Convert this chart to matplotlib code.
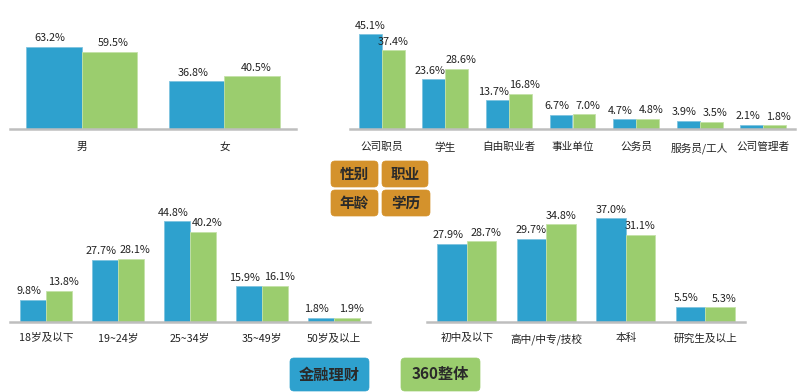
import matplotlib
matplotlib.use("Agg")
import matplotlib.pyplot as plt
from matplotlib.patches import FancyBboxPatch
import numpy as np

plt.rcParams['font.family'] = ['Noto Sans CJK SC', 'DejaVu Sans']

BLUE = '#2EA1CE'
GREEN = '#9BCD6E'
ORANGE = '#D4922C'
TEXT = '#222222'
AXIS = '#BEBEBE'

series_names = ['金融理财', '360整体']

gender_cats = ['男', '女']
gender_fin = [63.2, 36.8]
gender_all = [59.5, 40.5]

job_cats = ['公司职员', '学生', '自由职业者', '事业单位', '公务员', '服务员/工人', '公司管理者']
job_fin = [45.1, 23.6, 13.7, 6.7, 4.7, 3.9, 2.1]
job_all = [37.4, 28.6, 16.8, 7.0, 4.8, 3.5, 1.8]

age_cats = ['18岁及以下', '19~24岁', '25~34岁', '35~49岁', '50岁及以上']
age_fin = [9.8, 27.7, 44.8, 15.9, 1.8]
age_all = [13.8, 28.1, 40.2, 16.1, 1.9]

edu_cats = ['初中及以下', '高中/中专/技校', '本科', '研究生及以上']
edu_fin = [27.9, 29.7, 37.0, 5.5]
edu_all = [28.7, 34.8, 31.1, 5.3]

tag_labels = ['性别', '职业', '年龄', '学历']

W, H = 800, 392
fig = plt.figure(figsize=(W / 100, H / 100), dpi=100)
fig.patch.set_facecolor('white')


def panel(cats, a, b, left, right, base, top, scale, width, pad):
    ax = fig.add_axes([left / W, 1 - base / H, (right - left) / W, (base - top) / H])
    x = np.arange(len(cats))
    ax.bar(x - width / 2, a, width, color=BLUE, edgecolor='#7FC4E0', linewidth=0.6)
    ax.bar(x + width / 2, b, width, color=GREEN, edgecolor='#C4E2A8', linewidth=0.6)
    for i in range(len(cats)):
        close = abs(a[i] - b[i]) * scale < 12
        dx = 4 if close else 0
        ax.annotate(f'{a[i]:.1f}%', (x[i] - width / 2, a[i]), xytext=(-dx * 0.75, 2.5),
                    textcoords='offset points', ha='center', va='bottom',
                    fontsize=7.8, color=TEXT)
        ax.annotate(f'{b[i]:.1f}%', (x[i] + width / 2, b[i]), xytext=(dx * 0.75, 2.5),
                    textcoords='offset points', ha='center', va='bottom',
                    fontsize=7.8, color=TEXT)
    ax.set_xlim(-0.5, len(cats) - 0.5)
    ax.set_ylim(0, (base - top) / scale)
    ax.set_xticks(x)
    ax.set_xticklabels(cats, fontsize=7.7, color=TEXT)
    ax.tick_params(axis='x', length=0, pad=pad)
    ax.set_yticks([])
    for s in ['top', 'right', 'left']:
        ax.spines[s].set_visible(False)
    ax.spines['bottom'].set_color(AXIS)
    ax.spines['bottom'].set_linewidth(1.8)
    ax.patch.set_alpha(0)
    return ax


panel(gender_cats, gender_fin, gender_all, 10, 296, 129, 15, 1.30, 0.385, 9.5)
panel(job_cats, job_fin, job_all, 350, 795, 129, 15, 2.10, 0.36, 9.5)
panel(age_cats, age_fin, age_all, 10, 370, 322, 195, 2.25, 0.36, 8)
panel(edu_cats, edu_fin, edu_all, 427, 745, 322, 195, 2.81, 0.37, 8)

# overlay for tags / legend buttons
ov = fig.add_axes([0, 0, 1, 1])
ov.set_xlim(0, W)
ov.set_ylim(H, 0)
ov.axis('off')
ov.patch.set_alpha(0)


def button(x0, y0, x1, y1, color, text, fs):
    p = FancyBboxPatch((x0 + 3, y0 + 3), x1 - x0 - 6, y1 - y0 - 6,
                       boxstyle='round,pad=3,rounding_size=4',
                       facecolor=color, edgecolor=color, linewidth=0.5)
    ov.add_patch(p)
    ov.text((x0 + x1) / 2, (y0 + y1) / 2, text, ha='center', va='center',
            fontsize=fs, fontweight='bold', color='#2A2A2A')


tag_boxes = [(331, 161, 378, 187), (382, 161, 428, 187),
             (331, 190, 378, 216), (382, 190, 430, 216)]
for (x0, y0, x1, y1), t in zip(tag_boxes, tag_labels):
    button(x0, y0, x1, y1, ORANGE, t, 10.5)

button(290, 358, 369, 391, BLUE, series_names[0], 11)
button(401, 358, 480, 391, GREEN, series_names[1], 11)

fig.savefig('out.png', dpi=100, facecolor='white')
